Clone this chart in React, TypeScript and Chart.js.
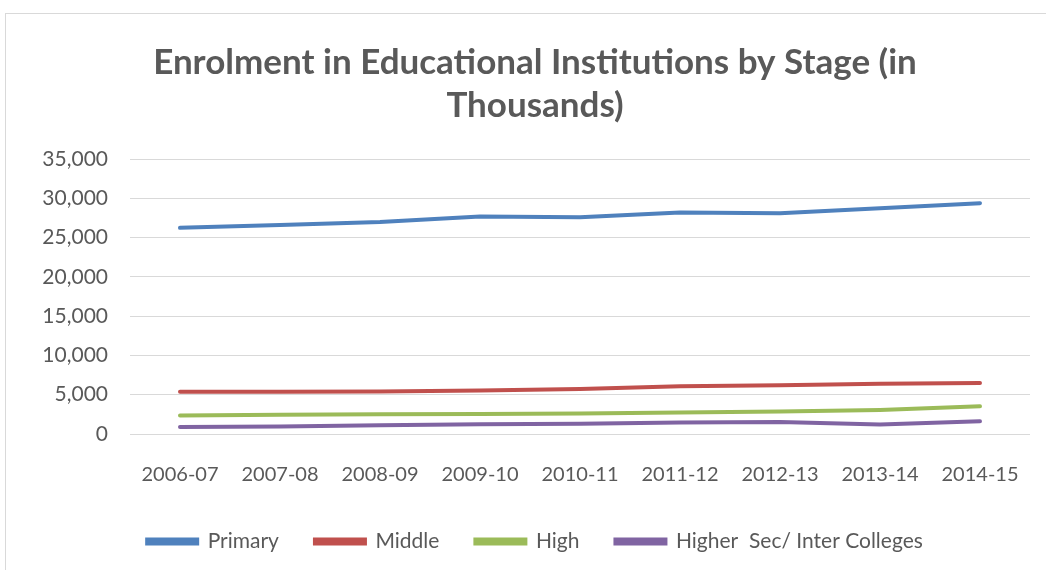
import React, { useEffect, useRef } from "react";
import { Chart, registerables } from "chart.js";

Chart.register(...registerables);

const years = ["2006-07", "2007-08", "2008-09", "2009-10", "2010-11", "2011-12", "2012-13", "2013-14", "2014-15"];
const primary = [26240, 26610, 26980, 27690, 27600, 28180, 28100, 28720, 29380];
const middle = [5380, 5390, 5420, 5550, 5730, 6070, 6190, 6400, 6480];
const high = [2370, 2450, 2520, 2560, 2620, 2730, 2870, 3070, 3520];
const higherSec = [890, 950, 1100, 1250, 1300, 1450, 1520, 1200, 1610];
const seriesNames = ["Primary", "Middle", "High", "Higher  Sec/ Inter Colleges"];
const seriesColors = ["#4F81BD", "#C0504D", "#9BBB59", "#8064A2"];
const titleLines = ["Enrolment in Educational Institutions by Stage (in", "Thousands)"];

const FONT = "Lato, 'Open Sans', sans-serif";

const legendShift = {
  id: "legendShift",
  afterLayout(chart: any) {
    const l = chart.legend;
    if (l) {
      l.top -= 13;
      l.bottom -= 13;
    }
  },
};

export default function App() {
  const ref = useRef<HTMLCanvasElement | null>(null);
  useEffect(() => {
    document.body.style.margin = "0";
    const values = [primary, middle, high, higherSec];
    const chart = new Chart(ref.current as HTMLCanvasElement, {
      type: "line",
      data: {
        labels: years,
        datasets: values.map((v, i) => ({
          label: seriesNames[i],
          data: v,
          borderColor: seriesColors[i],
          backgroundColor: seriesColors[i],
          borderWidth: 4,
          pointRadius: 0,
          tension: 0,
          borderCapStyle: "round" as const,
        })),
      },
      plugins: [legendShift],
      options: {
        animation: false,
        responsive: false,
        devicePixelRatio: 1,
        layout: { padding: { left: 40, right: 16, top: 20, bottom: -5 } },
        plugins: {
          title: {
            display: true,
            text: titleLines,
            color: "#595959",
            font: { family: FONT, size: 35, weight: "bold", lineHeight: 1.229 },
            padding: { top: 21, bottom: 32 },
          },
          legend: {
            position: "bottom",
            labels: {
              color: "#595959",
              font: { family: FONT, size: 21 },
              boxWidth: 50,
              boxHeight: 4,
              padding: 36,
            },
          },
          tooltip: { enabled: false },
        },
        scales: {
          x: {
            offset: true,
            grid: { display: false },
            border: { display: false },
            ticks: { color: "#595959", font: { family: FONT, size: 20 }, padding: 21, maxRotation: 0 },
          },
          y: {
            min: 0,
            max: 35000,
            afterFit: (s: any) => { s.width = 90; },
            grid: { color: "#D9D9D9", lineWidth: 1, drawTicks: false },
            border: { display: false },
            ticks: {
              stepSize: 5000,
              color: "#595959",
              font: { family: FONT, size: 21 },
              padding: 22,
              callback: (v: any) => Number(v).toLocaleString("en-US"),
            },
          },
        },
      },
    });
    return () => chart.destroy();
  }, []);
  return (
    <div style={{ position: "relative", width: 1046, height: 570 }}>
      <div style={{ position: "absolute", left: 5, top: 13, width: 1060, height: 600, border: "1px solid #D9D9D9", boxSizing: "border-box" }} />
      <canvas ref={ref} width={1046} height={570} style={{ position: "absolute", left: 0, top: 0 }} />
    </div>
  );
}
